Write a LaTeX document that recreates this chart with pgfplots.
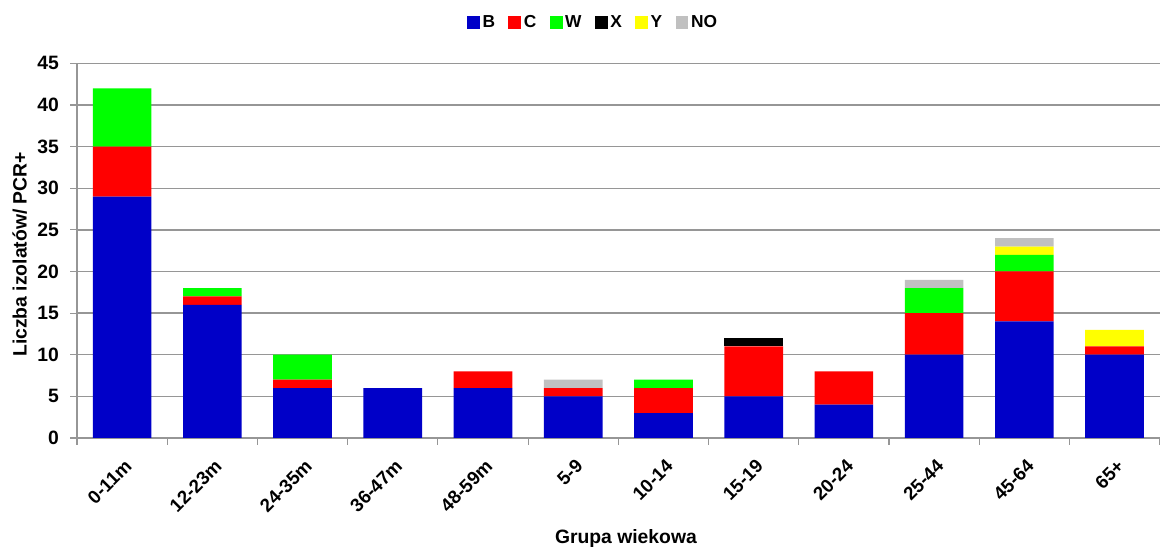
\documentclass[border=0pt]{standalone}
\usepackage{pgfplots}
\pgfplotsset{compat=1.18}
\usepackage{fontspec}
\setmainfont{Liberation Sans}
\definecolor{cB}{RGB}{0,0,200}
\definecolor{cC}{RGB}{255,0,0}
\definecolor{cW}{RGB}{0,255,0}
\definecolor{cX}{RGB}{0,0,0}
\definecolor{cY}{RGB}{255,255,0}
\definecolor{cNO}{RGB}{192,192,192}
\definecolor{gridc}{RGB}{150,150,150}
\begin{document}
\begin{tikzpicture}
\begin{axis}[
  scale only axis,
  width=812pt, height=281pt,
  ybar stacked,
  bar width=44pt,
  xmin=-0.5, xmax=11.5,
  ymin=0, ymax=45,
  ytick={0,5,...,45},
  xtick={0,...,11},
  xticklabels={0-11m,12-23m,24-35m,36-47m,48-59m,5-9,10-14,15-19,20-24,25-44,45-64,65+},
  minor xtick={-0.5,0.5,...,11.5},
  major x tick style={draw=none},
  minor x tick style={gridc, line width=0.9pt},
  y tick style={gridc, line width=0.9pt},
  tick align=outside,
  minor tick length=5pt,
  major tick length=5pt,
  ymajorgrids,
  grid style={gridc, line width=1pt},
  axis x line*=bottom,
  axis y line*=left,
  axis line style={gridc, line width=1pt},
  /pgf/number format/assume math mode=true,
  yticklabel style={font=\bfseries\fontsize{14.5}{16}\selectfont, xshift=-5pt},
  xticklabel style={font=\bfseries\fontsize{14}{16}\selectfont, rotate=45, anchor=east, yshift=-13pt, xshift=-3pt},
  ylabel={Liczba izolatów/ PCR+},
  ylabel style={font=\bfseries\fontsize{14.5}{16}\selectfont, at={(rel axis cs:0,0.49)}, anchor=center, yshift=43pt},
  xlabel={Grupa wiekowa},
  xlabel style={font=\bfseries\fontsize{14.5}{16}\selectfont, at={(rel axis cs:0.507,0)}, anchor=center, yshift=-75.5pt},
  legend style={at={(rel axis cs:0.477,1.109)}, anchor=center, draw=none, legend columns=-1,
    font=\bfseries\fontsize{13}{15}\selectfont,
    /tikz/every even column/.append style={column sep=8pt}},
  legend image code/.code={\fill[#1] (0pt,-4.8pt) rectangle (9.6pt,4.8pt);},
  every axis plot/.append style={draw=none},
]
\addplot[fill=cB] coordinates {(0,29) (1,16) (2,6) (3,6) (4,6) (5,5) (6,3) (7,5) (8,4) (9,10) (10,14) (11,10)};
\addplot[fill=cC] coordinates {(0,6) (1,1) (2,1) (3,0) (4,2) (5,1) (6,3) (7,6) (8,4) (9,5) (10,6) (11,1)};
\addplot[fill=cW] coordinates {(0,7) (1,1) (2,3) (3,0) (4,0) (5,0) (6,1) (7,0) (8,0) (9,3) (10,2) (11,0)};
\addplot[fill=cX] coordinates {(0,0) (1,0) (2,0) (3,0) (4,0) (5,0) (6,0) (7,1) (8,0) (9,0) (10,0) (11,0)};
\addplot[fill=cY] coordinates {(0,0) (1,0) (2,0) (3,0) (4,0) (5,0) (6,0) (7,0) (8,0) (9,0) (10,1) (11,2)};
\addplot[fill=cNO] coordinates {(0,0) (1,0) (2,0) (3,0) (4,0) (5,1) (6,0) (7,0) (8,0) (9,1) (10,1) (11,0)};
\legend{B,C,W,X,Y,NO}
\end{axis}
\pgfresetboundingbox
\path (-57.75pt,-83.25pt) rectangle (815.25pt,328.5pt);
\end{tikzpicture}
\end{document}
